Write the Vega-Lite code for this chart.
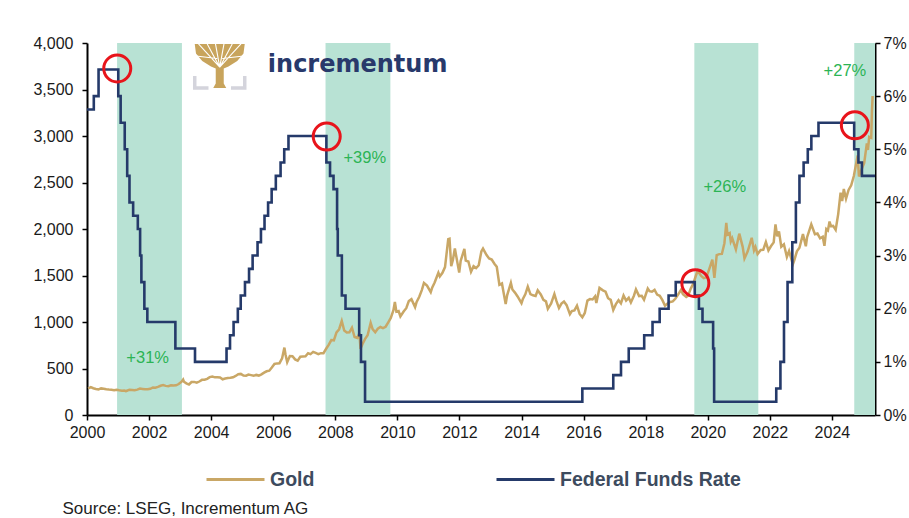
{
"$schema":"https://vega.github.io/schema/vega-lite/v6.json",
"width":788,"height":372,
"autosize":{"type":"none"},
"padding":{"left":87,"top":43,"right":34,"bottom":103},
"background":"white",
"config":{"view":{"stroke":null},"font":"Liberation Sans",
 "axis":{"grid":false,"domainColor":"#000000","domainWidth":2,"tickColor":"#000000","tickWidth":1.5,"tickSize":5,"labelFont":"Liberation Sans","labelFontSize":16,"labelColor":"#1a1a1a"}},
"datasets":{
"bands":[{"d":"2000-12-20","d2":"2003-01-22"},{"d":"2007-09-08","d2":"2009-10-10"},{"d":"2019-07-27","d2":"2021-08-18"},{"d":"2024-09-20","d2":"2025-05-22"}],
"gold":[
{"d":"2000-01-15","v":285},{"d":"2000-02-15","v":300},{"d":"2000-03-15","v":288},{"d":"2000-04-15","v":280},{"d":"2000-05-15","v":275},{"d":"2000-06-15","v":286},{"d":"2000-07-15","v":282},{"d":"2000-08-15","v":276},{"d":"2000-09-15","v":273},{"d":"2000-10-15","v":271},{"d":"2000-11-15","v":266},{"d":"2000-12-15","v":272},
{"d":"2001-01-15","v":266},{"d":"2001-02-15","v":262},{"d":"2001-03-15","v":263},{"d":"2001-04-02","v":256},{"d":"2001-04-15","v":261},{"d":"2001-05-15","v":272},{"d":"2001-06-15","v":270},{"d":"2001-07-15","v":267},{"d":"2001-08-15","v":273},{"d":"2001-09-15","v":284},{"d":"2001-10-15","v":280},{"d":"2001-11-15","v":276},{"d":"2001-12-15","v":276},
{"d":"2002-01-15","v":282},{"d":"2002-02-15","v":296},{"d":"2002-03-15","v":294},{"d":"2002-04-15","v":302},{"d":"2002-05-15","v":314},{"d":"2002-06-15","v":321},{"d":"2002-07-15","v":313},{"d":"2002-08-15","v":310},{"d":"2002-09-15","v":319},{"d":"2002-10-15","v":317},{"d":"2002-11-15","v":319},{"d":"2002-12-15","v":333},
{"d":"2003-01-15","v":356},{"d":"2003-02-05","v":382},{"d":"2003-02-15","v":358},{"d":"2003-03-15","v":340},{"d":"2003-04-15","v":328},{"d":"2003-05-15","v":355},{"d":"2003-06-15","v":356},{"d":"2003-07-15","v":347},{"d":"2003-08-15","v":360},{"d":"2003-09-15","v":378},{"d":"2003-10-15","v":379},{"d":"2003-11-15","v":389},{"d":"2003-12-15","v":407},
{"d":"2004-01-15","v":414},{"d":"2004-02-15","v":405},{"d":"2004-03-15","v":406},{"d":"2004-04-15","v":403},{"d":"2004-05-15","v":384},{"d":"2004-06-15","v":392},{"d":"2004-07-15","v":398},{"d":"2004-08-15","v":400},{"d":"2004-09-15","v":406},{"d":"2004-10-15","v":420},{"d":"2004-11-15","v":439},{"d":"2004-12-15","v":442},
{"d":"2005-01-15","v":424},{"d":"2005-02-15","v":423},{"d":"2005-03-15","v":434},{"d":"2005-04-15","v":429},{"d":"2005-05-15","v":422},{"d":"2005-06-15","v":431},{"d":"2005-07-15","v":424},{"d":"2005-08-15","v":437},{"d":"2005-09-15","v":456},{"d":"2005-10-15","v":470},{"d":"2005-11-15","v":476},{"d":"2005-12-15","v":510},
{"d":"2006-01-15","v":549},{"d":"2006-02-15","v":555},{"d":"2006-03-15","v":557},{"d":"2006-04-15","v":610},{"d":"2006-05-12","v":725},{"d":"2006-05-25","v":650},{"d":"2006-06-14","v":567},{"d":"2006-07-15","v":633},{"d":"2006-08-15","v":632},{"d":"2006-09-15","v":598},{"d":"2006-10-15","v":585},{"d":"2006-11-15","v":627},{"d":"2006-12-15","v":629},
{"d":"2007-01-15","v":631},{"d":"2007-02-15","v":664},{"d":"2007-03-15","v":655},{"d":"2007-04-15","v":679},{"d":"2007-05-15","v":667},{"d":"2007-06-15","v":655},{"d":"2007-07-15","v":665},{"d":"2007-08-15","v":665},{"d":"2007-09-15","v":712},{"d":"2007-10-15","v":754},{"d":"2007-11-15","v":806},{"d":"2007-12-15","v":803},
{"d":"2008-01-15","v":889},{"d":"2008-02-15","v":922},{"d":"2008-03-17","v":1011},{"d":"2008-04-15","v":909},{"d":"2008-05-15","v":888},{"d":"2008-06-15","v":889},{"d":"2008-07-15","v":939},{"d":"2008-08-15","v":839},{"d":"2008-09-15","v":829},{"d":"2008-10-10","v":880},{"d":"2008-10-24","v":712},{"d":"2008-11-15","v":760},{"d":"2008-12-15","v":816},
{"d":"2009-01-15","v":858},{"d":"2009-02-20","v":990},{"d":"2009-03-15","v":924},{"d":"2009-04-15","v":890},{"d":"2009-05-15","v":928},{"d":"2009-06-15","v":946},{"d":"2009-07-15","v":934},{"d":"2009-08-15","v":949},{"d":"2009-09-15","v":996},{"d":"2009-10-15","v":1043},{"d":"2009-11-15","v":1127},{"d":"2009-12-02","v":1215},{"d":"2009-12-20","v":1110},
{"d":"2010-01-15","v":1117},{"d":"2010-02-05","v":1060},{"d":"2010-03-15","v":1113},{"d":"2010-04-15","v":1148},{"d":"2010-05-15","v":1225},{"d":"2010-06-15","v":1245},{"d":"2010-07-28","v":1160},{"d":"2010-08-15","v":1215},{"d":"2010-09-15","v":1271},{"d":"2010-10-15","v":1343},{"d":"2010-11-09","v":1420},{"d":"2010-12-15","v":1391},
{"d":"2011-01-28","v":1320},{"d":"2011-02-15","v":1372},{"d":"2011-03-15","v":1424},{"d":"2011-04-28","v":1530},{"d":"2011-05-15","v":1490},{"d":"2011-06-15","v":1529},{"d":"2011-07-15","v":1590},{"d":"2011-08-22","v":1890},{"d":"2011-09-06","v":1895},{"d":"2011-09-26","v":1600},{"d":"2011-10-15","v":1665},{"d":"2011-11-08","v":1790},{"d":"2011-12-29","v":1531},
{"d":"2012-01-15","v":1656},{"d":"2012-02-28","v":1785},{"d":"2012-03-15","v":1660},{"d":"2012-04-15","v":1650},{"d":"2012-05-16","v":1540},{"d":"2012-06-15","v":1600},{"d":"2012-07-15","v":1580},{"d":"2012-08-15","v":1610},{"d":"2012-09-15","v":1760},{"d":"2012-10-04","v":1790},{"d":"2012-11-15","v":1720},{"d":"2012-12-15","v":1684},
{"d":"2013-01-15","v":1671},{"d":"2013-02-15","v":1627},{"d":"2013-03-15","v":1593},{"d":"2013-04-15","v":1400},{"d":"2013-05-15","v":1414},{"d":"2013-06-28","v":1192},{"d":"2013-07-15","v":1286},{"d":"2013-08-28","v":1420},{"d":"2013-09-15","v":1349},{"d":"2013-10-15","v":1316},{"d":"2013-11-15","v":1275},{"d":"2013-12-31","v":1202},
{"d":"2014-01-15","v":1244},{"d":"2014-02-15","v":1300},{"d":"2014-03-15","v":1380},{"d":"2014-04-15","v":1299},{"d":"2014-05-15","v":1287},{"d":"2014-06-15","v":1279},{"d":"2014-07-10","v":1340},{"d":"2014-08-15","v":1296},{"d":"2014-09-15","v":1239},{"d":"2014-10-15","v":1222},{"d":"2014-11-06","v":1142},{"d":"2014-12-15","v":1200},
{"d":"2015-01-22","v":1300},{"d":"2015-02-15","v":1227},{"d":"2015-03-17","v":1150},{"d":"2015-04-15","v":1198},{"d":"2015-05-15","v":1220},{"d":"2015-06-15","v":1181},{"d":"2015-07-24","v":1085},{"d":"2015-08-15","v":1117},{"d":"2015-09-15","v":1125},{"d":"2015-10-15","v":1175},{"d":"2015-11-15","v":1086},{"d":"2015-12-17","v":1050},
{"d":"2016-01-15","v":1097},{"d":"2016-02-15","v":1230},{"d":"2016-03-15","v":1246},{"d":"2016-04-15","v":1242},{"d":"2016-05-15","v":1275},{"d":"2016-05-30","v":1205},{"d":"2016-07-06","v":1366},{"d":"2016-08-15","v":1340},{"d":"2016-09-15","v":1326},{"d":"2016-10-15","v":1256},{"d":"2016-11-15","v":1238},{"d":"2016-12-15","v":1130},
{"d":"2017-01-15","v":1192},{"d":"2017-02-15","v":1234},{"d":"2017-03-15","v":1200},{"d":"2017-04-15","v":1285},{"d":"2017-05-15","v":1230},{"d":"2017-06-15","v":1260},{"d":"2017-07-10","v":1210},{"d":"2017-08-15","v":1283},{"d":"2017-09-08","v":1350},{"d":"2017-10-15","v":1279},{"d":"2017-11-15","v":1282},{"d":"2017-12-12","v":1240},
{"d":"2018-01-25","v":1360},{"d":"2018-02-15","v":1331},{"d":"2018-03-15","v":1325},{"d":"2018-04-15","v":1345},{"d":"2018-05-15","v":1295},{"d":"2018-06-15","v":1282},{"d":"2018-07-15","v":1238},{"d":"2018-08-16","v":1174},{"d":"2018-09-15","v":1198},{"d":"2018-10-15","v":1215},{"d":"2018-11-15","v":1221},{"d":"2018-12-15","v":1250},
{"d":"2019-01-15","v":1291},{"d":"2019-02-20","v":1345},{"d":"2019-03-15","v":1300},{"d":"2019-04-23","v":1270},{"d":"2019-05-15","v":1284},{"d":"2019-06-15","v":1359},{"d":"2019-07-15","v":1413},{"d":"2019-08-15","v":1500},{"d":"2019-09-04","v":1550},{"d":"2019-10-15","v":1495},{"d":"2019-11-15","v":1471},{"d":"2019-12-15","v":1480},
{"d":"2020-01-15","v":1560},{"d":"2020-02-24","v":1670},{"d":"2020-03-19","v":1474},{"d":"2020-04-15","v":1720},{"d":"2020-05-15","v":1730},{"d":"2020-06-15","v":1732},{"d":"2020-07-15","v":1847},{"d":"2020-08-06","v":2067},{"d":"2020-08-20","v":1940},{"d":"2020-09-15","v":1955},{"d":"2020-09-28","v":1865},{"d":"2020-10-15","v":1900},{"d":"2020-11-27","v":1780},{"d":"2020-12-15","v":1858},
{"d":"2021-01-06","v":1950},{"d":"2021-02-15","v":1808},{"d":"2021-03-08","v":1683},{"d":"2021-04-15","v":1760},{"d":"2021-05-15","v":1850},{"d":"2021-06-01","v":1905},{"d":"2021-06-28","v":1770},{"d":"2021-07-15","v":1807},{"d":"2021-08-09","v":1730},{"d":"2021-09-15","v":1775},{"d":"2021-10-15","v":1777},{"d":"2021-11-15","v":1860},{"d":"2021-12-15","v":1770},
{"d":"2022-01-15","v":1817},{"d":"2022-02-15","v":1856},{"d":"2022-03-08","v":2050},{"d":"2022-03-28","v":1920},{"d":"2022-04-18","v":1975},{"d":"2022-05-15","v":1810},{"d":"2022-06-15","v":1836},{"d":"2022-07-20","v":1700},{"d":"2022-08-15","v":1764},{"d":"2022-09-28","v":1620},{"d":"2022-10-15","v":1664},{"d":"2022-11-15","v":1760},{"d":"2022-12-15","v":1798},
{"d":"2023-01-25","v":1945},{"d":"2023-02-28","v":1815},{"d":"2023-03-15","v":1912},{"d":"2023-04-15","v":1999},{"d":"2023-05-03","v":2050},{"d":"2023-06-15","v":1943},{"d":"2023-07-15","v":1951},{"d":"2023-08-15","v":1900},{"d":"2023-09-15","v":1916},{"d":"2023-10-05","v":1820},{"d":"2023-10-27","v":2000},{"d":"2023-11-15","v":1985},{"d":"2023-12-04","v":2080},{"d":"2023-12-20","v":2030},
{"d":"2024-01-15","v":2033},{"d":"2024-02-14","v":1990},{"d":"2024-03-15","v":2160},{"d":"2024-04-12","v":2390},{"d":"2024-05-01","v":2300},{"d":"2024-05-20","v":2430},{"d":"2024-06-15","v":2326},{"d":"2024-07-15","v":2420},{"d":"2024-08-15","v":2470},{"d":"2024-09-15","v":2570},{"d":"2024-10-30","v":2790},{"d":"2024-11-14","v":2565},{"d":"2024-12-15","v":2640},
{"d":"2025-01-15","v":2710},{"d":"2025-02-15","v":2920},{"d":"2025-02-28","v":2850},{"d":"2025-03-15","v":2990},{"d":"2025-04-08","v":2980},{"d":"2025-04-15","v":3250},{"d":"2025-04-24","v":3430}
],
"fed":[
{"d":"2000-01-01","r":5.75},{"d":"2000-03-21","r":6.0},{"d":"2000-05-16","r":6.5},{"d":"2001-01-03","r":6.0},{"d":"2001-01-31","r":5.5},{"d":"2001-03-20","r":5.0},{"d":"2001-04-18","r":4.5},{"d":"2001-05-15","r":4.0},{"d":"2001-06-27","r":3.75},{"d":"2001-08-21","r":3.5},{"d":"2001-09-17","r":3.0},{"d":"2001-10-02","r":2.5},{"d":"2001-11-06","r":2.0},{"d":"2001-12-11","r":1.75},{"d":"2002-11-06","r":1.25},{"d":"2003-06-25","r":1.0},{"d":"2004-06-30","r":1.25},{"d":"2004-08-10","r":1.5},{"d":"2004-09-21","r":1.75},{"d":"2004-11-10","r":2.0},{"d":"2004-12-14","r":2.25},{"d":"2005-02-02","r":2.5},{"d":"2005-03-22","r":2.75},{"d":"2005-05-03","r":3.0},{"d":"2005-06-30","r":3.25},{"d":"2005-08-09","r":3.5},{"d":"2005-09-20","r":3.75},{"d":"2005-11-01","r":4.0},{"d":"2005-12-13","r":4.25},{"d":"2006-01-31","r":4.5},{"d":"2006-03-28","r":4.75},{"d":"2006-05-10","r":5.0},{"d":"2006-06-29","r":5.25},{"d":"2007-09-18","r":4.75},{"d":"2007-10-31","r":4.5},{"d":"2007-12-11","r":4.25},{"d":"2008-01-22","r":3.5},{"d":"2008-01-30","r":3.0},{"d":"2008-03-18","r":2.25},{"d":"2008-04-30","r":2.0},{"d":"2008-10-08","r":1.5},{"d":"2008-10-29","r":1.0},{"d":"2008-12-16","r":0.25},{"d":"2015-12-17","r":0.5},{"d":"2016-12-15","r":0.75},{"d":"2017-03-16","r":1.0},{"d":"2017-06-15","r":1.25},{"d":"2017-12-14","r":1.5},{"d":"2018-03-22","r":1.75},{"d":"2018-06-14","r":2.0},{"d":"2018-09-27","r":2.25},{"d":"2018-12-20","r":2.5},{"d":"2019-08-01","r":2.25},{"d":"2019-09-19","r":2.0},{"d":"2019-10-31","r":1.75},{"d":"2020-03-04","r":1.25},{"d":"2020-03-16","r":0.25},{"d":"2022-03-17","r":0.5},{"d":"2022-05-05","r":1.0},{"d":"2022-06-16","r":1.75},{"d":"2022-07-28","r":2.5},{"d":"2022-09-22","r":3.25},{"d":"2022-11-03","r":4.0},{"d":"2022-12-15","r":4.5},{"d":"2023-02-02","r":4.75},{"d":"2023-03-23","r":5.0},{"d":"2023-05-04","r":5.25},{"d":"2023-07-27","r":5.5},{"d":"2024-09-19","r":5.0},{"d":"2024-11-08","r":4.75},{"d":"2024-12-19","r":4.5},{"d":"2025-05-22","r":4.5}
],
"circles":[{"d":"2000-12-22","r":6.52},{"d":"2007-09-22","r":5.24},{"d":"2019-08-08","r":2.48},{"d":"2024-09-27","r":5.45}],
"labels":[{"d":"2001-12-15","v":613,"t":"+31%"},{"d":"2008-12-13","v":2763,"t":"+39%"},{"d":"2020-07-19","v":2452,"t":"+26%"},{"d":"2024-06-02","v":3699,"t":"+27%"}],
"logo":[{"d":"2005-10-29","v":3688,"t":"incrementum"}],
"tree":[{"d":"2004-04-11","v":3753}],
"source":[{"d":"1999-03-19","v":-1062,"t":"Source: LSEG, Incrementum AG"}]
},
"encoding":{"x":{"field":"d","type":"temporal","title":null,
 "scale":{"domain":[{"year":2000,"month":1,"date":1},{"year":2025,"month":5,"date":22}]},
 "axis":{"values":[{"year":2000},{"year":2002},{"year":2004},{"year":2006},{"year":2008},{"year":2010},{"year":2012},{"year":2014},{"year":2016},{"year":2018},{"year":2020},{"year":2022},{"year":2024}],"format":"%Y","labelPadding":4,"labelOverlap":false,"labelFlush":false}}},
"layer":[
  {"data":{"name":"bands"},"mark":{"type":"rect","color":"#b8e2d4"},"encoding":{"x2":{"field":"d2"}}},
  {"data":{"name":"gold"},"mark":{"type":"line","strokeWidth":2.5},
   "encoding":{"y":{"field":"v","type":"quantitative","scale":{"domain":[0,4000]},"axis":{"values":[0,500,1000,1500,2000,2500,3000,3500,4000],"format":",d","labelPadding":9,"title":null}},
   "color":{"datum":"Gold","type":"nominal","scale":{"domain":["Gold","Federal Funds Rate"],"range":["#c9a766","#253a6a"]},
    "legend":{"title":null,"orient":"none","legendX":118,"legendY":406,"direction":"horizontal","symbolType":"stroke","symbolSize":3364,"symbolStrokeWidth":3,"labelFontSize":19.5,"labelFontWeight":"bold","labelFont":"Liberation Sans","labelColor":"#3d4b5e","labelOffset":4,"labelLimit":400,"columnPadding":175,"padding":0}}}},
  {"data":{"name":"labels"},"mark":{"type":"text","color":"#2cb455","fontSize":16.5,"align":"center","baseline":"middle"},
   "encoding":{"y":{"field":"v","type":"quantitative","scale":{"domain":[0,4000]},"axis":null},"text":{"field":"t"}}},
  {"data":{"name":"logo"},"mark":{"type":"text","color":"#28396b","font":"DejaVu Sans","fontWeight":"bold","fontSize":24,"align":"left","baseline":"alphabetic"},
   "encoding":{"y":{"field":"v","type":"quantitative","scale":{"domain":[0,4000]},"axis":null},"text":{"field":"t"}}},
  {"data":{"name":"source"},"mark":{"type":"text","color":"#222222","fontSize":17,"align":"left","baseline":"alphabetic"},
   "encoding":{"y":{"field":"v","type":"quantitative","scale":{"domain":[0,4000]},"axis":null},"text":{"field":"t"}}},
  {"data":{"name":"tree"},"mark":{"type":"point","shape":"M-1,-0.88 L1,-0.88 L0.95,-0.5 L0.7,-0.2 L0.35,0.02 L0.16,0.1 L0.16,0.7 L0.26,0.88 L-0.26,0.88 L-0.16,0.7 L-0.16,0.1 L-0.35,0.02 L-0.7,-0.2 L-0.95,-0.5 Z","filled":true,"fill":"#c8a45c","strokeWidth":0,"size":2500,"opacity":1},
   "encoding":{"y":{"field":"v","type":"quantitative","scale":{"domain":[0,4000]},"axis":null}}},
  {"data":{"name":"tree"},"mark":{"type":"point","shape":"M0,0.05 L-0.85,-0.88 M0,0.05 L-0.5,-0.88 M0,0.05 L-0.17,-0.88 M0,0.05 L0.17,-0.88 M0,0.05 L0.5,-0.88 M0,0.05 L0.85,-0.88 M-0.1,-0.3 L-0.95,-0.4 M0.1,-0.3 L0.95,-0.4","filled":false,"stroke":"#ffffff","strokeWidth":1.1,"size":2500,"opacity":1},
   "encoding":{"y":{"field":"v","type":"quantitative","scale":{"domain":[0,4000]},"axis":null}}},
  {"data":{"name":"tree"},"mark":{"type":"point","shape":"M-1,0.4 L-1,0.88 L-0.45,0.88 M0.45,0.88 L1,0.88 L1,0.4","filled":false,"stroke":"#d4d4dc","strokeWidth":3.5,"size":2500,"opacity":1},
   "encoding":{"y":{"field":"v","type":"quantitative","scale":{"domain":[0,4000]},"axis":null}}},
  {"data":{"name":"fed"},"mark":{"type":"line","strokeWidth":2.6,"interpolate":"step-after"},
   "encoding":{"y":{"field":"r","type":"quantitative","scale":{"domain":[0,7]},"axis":{"orient":"right","values":[0,1,2,3,4,5,6,7],"labelExpr":"datum.value + '%'","labelPadding":3,"title":null}},
   "color":{"datum":"Federal Funds Rate","type":"nominal"}}},
  {"data":{"name":"circles"},"mark":{"type":"point","shape":"circle","filled":false,"stroke":"#e8141b","strokeWidth":3,"size":729,"opacity":1},
   "encoding":{"y":{"field":"r","type":"quantitative","scale":{"domain":[0,7]},"axis":null}}}
],
"resolve":{"scale":{"y":"independent"},"axis":{"y":"independent"}}
}
